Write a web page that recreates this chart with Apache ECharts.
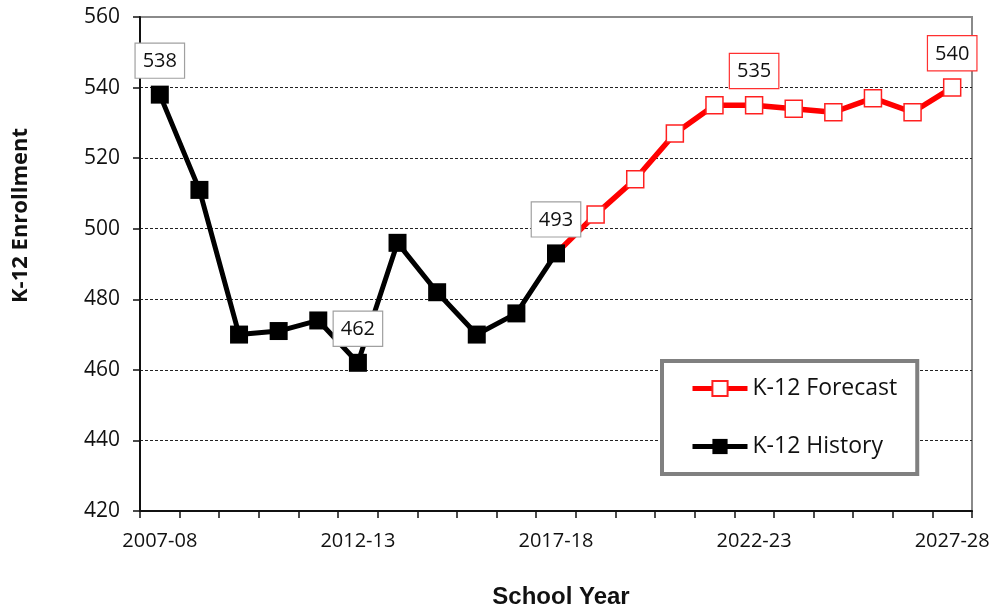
<!DOCTYPE html>
<html>
<head>
<meta charset="utf-8">
<script src="https://cdn.jsdelivr.net/npm/echarts@6/dist/echarts.min.js"></script>
<style>
  html, body { margin: 0; padding: 0; background: #ffffff; }
  #chart { width: 998px; height: 614px; }
</style>
</head>
<body>
<div id="chart"></div>
<script>
const years = ['2007-08','2008-09','2009-10','2010-11','2011-12','2012-13','2013-14',
  '2014-15','2015-16','2016-17','2017-18','2018-19','2019-20','2020-21','2021-22',
  '2022-23','2023-24','2024-25','2025-26','2026-27','2027-28'];
const historyYears = ['2007-08','2008-09','2009-10','2010-11','2011-12','2012-13','2013-14',
  '2014-15','2015-16','2016-17','2017-18'];
const historyValues = [538, 511, 470, 471, 474, 462, 496, 482, 470, 476, 493];
const forecastYears = ['2017-18','2018-19','2019-20','2020-21','2021-22','2022-23',
  '2023-24','2024-25','2025-26','2026-27','2027-28'];
const forecastValues = [493, 504, 514, 527, 535, 535, 534, 533, 537, 533, 540];
const historyLabeled = ['2007-08', '2012-13', '2017-18'];
const forecastLabeled = ['2022-23', '2027-28'];
const yTicks = [420, 440, 460, 480, 500, 520, 540, 560];

const FONT = 'Open Sans';

function buildData(srcYears, srcValues, labeled, borderColor, hideFirstSymbol) {
  return years.map(function (y) {
    const idx = srcYears.indexOf(y);
    if (idx < 0) return null;
    const item = { value: srcValues[idx] };
    if (hideFirstSymbol && idx === 0) {
      item.symbol = 'none';
    }
    if (labeled.indexOf(y) >= 0) {
      item.label = {
        show: true,
        position: 'top',
        distance: 8,
        formatter: '{c}',
        fontFamily: FONT,
        fontSize: 20,
        color: '#111',
        backgroundColor: '#ffffff',
        borderColor: borderColor,
        borderWidth: 1.2,
        padding: [6, 7, 5, 7],
        lineHeight: 23
      };
    }
    return item;
  });
}

const chart = echarts.init(document.getElementById('chart'), null, { renderer: 'canvas' });

const splitColors = yTicks.map(function (v, i) {
  return (i === 0 || i === yTicks.length - 1) ? 'rgba(0,0,0,0)' : '#222';
});

chart.setOption({
  backgroundColor: '#ffffff',
  animation: false,
  grid: {
    left: 140, right: 26, top: 17, bottom: 101,
    show: true, borderColor: '#8a8a8a', borderWidth: 2, backgroundColor: '#fff'
  },
  legend: {
    data: ['K-12 Forecast', 'K-12 History'],
    orient: 'vertical',
    left: 662, top: 361,
    padding: [16, 20, 16, 28],
    itemWidth: 55, itemHeight: 19, itemGap: 35, itemTextGap: 3,
    backgroundColor: '#ffffff',
    borderColor: '#808080', borderWidth: 4,
    lineStyle: { width: 5 },
    textStyle: { fontFamily: FONT, fontSize: 23, color: '#111' }
  },
  xAxis: {
    type: 'category',
    data: years,
    boundaryGap: true,
    name: 'School Year',
    nameLocation: 'middle',
    nameGap: 74,
    nameTextStyle: { fontFamily: 'Liberation Sans', fontWeight: 'bold', fontSize: 24, color: '#111', padding: [0, 0, 0, 10] },
    axisLine: { lineStyle: { color: '#111', width: 2 } },
    axisTick: { show: true, interval: 0, alignWithLabel: false, length: 7, lineStyle: { color: '#111', width: 1.5 } },
    axisLabel: { interval: 4, margin: 20, fontFamily: FONT, fontSize: 20, color: '#111' },
    splitLine: { show: false }
  },
  yAxis: {
    type: 'value',
    min: 420, max: 560, interval: 20,
    axisLine: { show: true, lineStyle: { color: '#111', width: 2 } },
    axisTick: { show: true, length: 7, lineStyle: { color: '#111', width: 1.5 } },
    axisLabel: { margin: 20, fontFamily: FONT, fontSize: 21, color: '#111' },
    splitLine: { show: true, lineStyle: { color: splitColors, type: [3, 2], width: 1 } }
  },
  graphic: [{
    type: 'text',
    left: 10, top: 128,
    rotation: Math.PI / 2,
    style: {
      text: 'K-12 Enrollment',
      fontFamily: FONT, fontWeight: 'bold', fontSize: 22, fill: '#111'
    }
  }],
  series: [
    {
      name: 'K-12 Forecast',
      type: 'line',
      z: 2,
      data: buildData(forecastYears, forecastValues, forecastLabeled, '#ff3030', true),
      symbol: 'rect',
      symbolSize: 17,
      showAllSymbol: true,
      connectNulls: false,
      lineStyle: { color: '#ff0000', width: 5.5 },
      itemStyle: { color: '#ffffff', borderColor: '#ff2020', borderWidth: 1.5 }
    },
    {
      name: 'K-12 History',
      type: 'line',
      z: 3,
      data: buildData(historyYears, historyValues, historyLabeled, '#a0a0a0', false),
      symbol: 'rect',
      symbolSize: 18,
      showAllSymbol: true,
      lineStyle: { color: '#000000', width: 5 },
      itemStyle: { color: '#000000', borderColor: '#000000', borderWidth: 0 }
    }
  ]
});
</script>
</body>
</html>
